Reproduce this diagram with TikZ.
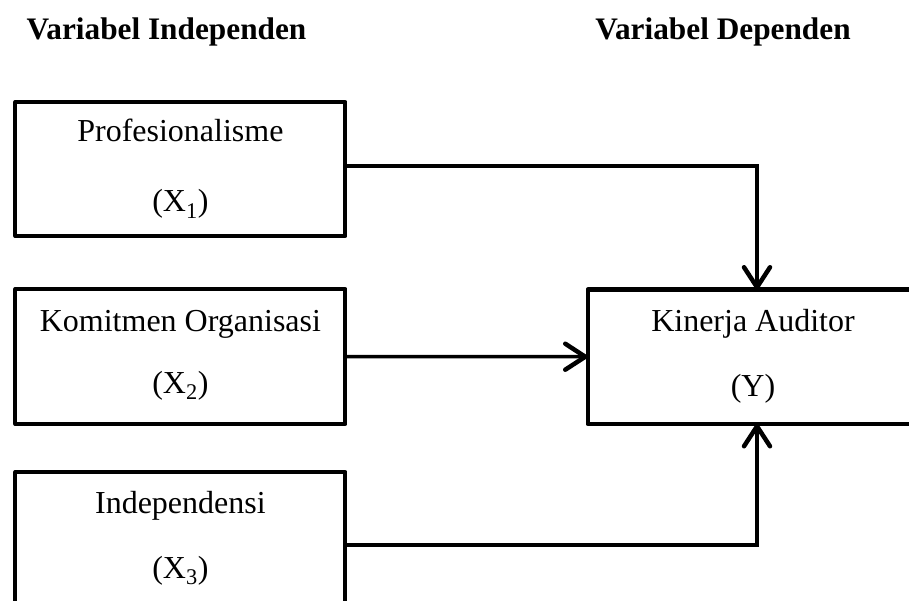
\documentclass[tikz,border=0pt]{standalone}
\usepackage{fontspec}
\setmainfont{Liberation Serif}
\usetikzlibrary{arrows.meta}
\begin{document}
\begin{tikzpicture}[x=1pt,y=-1pt,
  box/.style={draw, line width=4pt, rectangle, outer sep=0pt, inner sep=0pt, line join=round},
  lbl/.style={anchor=base, inner sep=0pt, font=\fontsize{32}{38}\selectfont},
  hdr/.style={anchor=base, inner sep=0pt, font=\fontsize{31.3}{37}\selectfont\bfseries},
  conn/.style={line width=3.5pt, -{Straight Barb[length=20pt,width=26pt,line width=4.5pt,round]}}]
\useasboundingbox (0,0) rectangle (909,601);
\clip (0,0) rectangle (909,601);
% headers
\node[hdr] (h1) at (166.5,40) {Variabel Independen};
\node[hdr] (h2) at (723,40) {Variabel Dependen};
% boxes
\node[box, minimum width=330pt, minimum height=134pt] (b1) at (180.4,169) {};
\node[box, minimum width=330pt, minimum height=135pt] (b2) at (180.4,356.5) {};
\node[box, minimum width=330pt, minimum height=146pt] (b3) at (180.4,545) {};
\node[box, minimum width=339pt, minimum height=134.5pt] (y) at (757,356.75) {};
% texts
\node[lbl] (t1a) at (180.4,142) {Profesionalisme};
\node[lbl] (t1b) at (180.4,212) {(X\textsubscript{1})};
\node[lbl] (t2a) at (180.4,331) {Komitmen Organisasi};
\node[lbl] (t2b) at (180.4,393) {(X\textsubscript{2})};
\node[lbl] (t3a) at (180.4,513) {Independensi};
\node[lbl] (t3b) at (180.4,578) {(X\textsubscript{3})};
\node[lbl] (tya) at (753,331) {Kinerja Auditor};
\node[lbl] (tyb) at (753,396) {(Y)};
% connectors
\coordinate (c1) at (345.4,166);
\draw[conn] (c1) -| (y.north);
\draw[conn] (b2.east) -- (y.west);
\draw[conn] (b3.east) -| (y.south);
\end{tikzpicture}
\end{document}
